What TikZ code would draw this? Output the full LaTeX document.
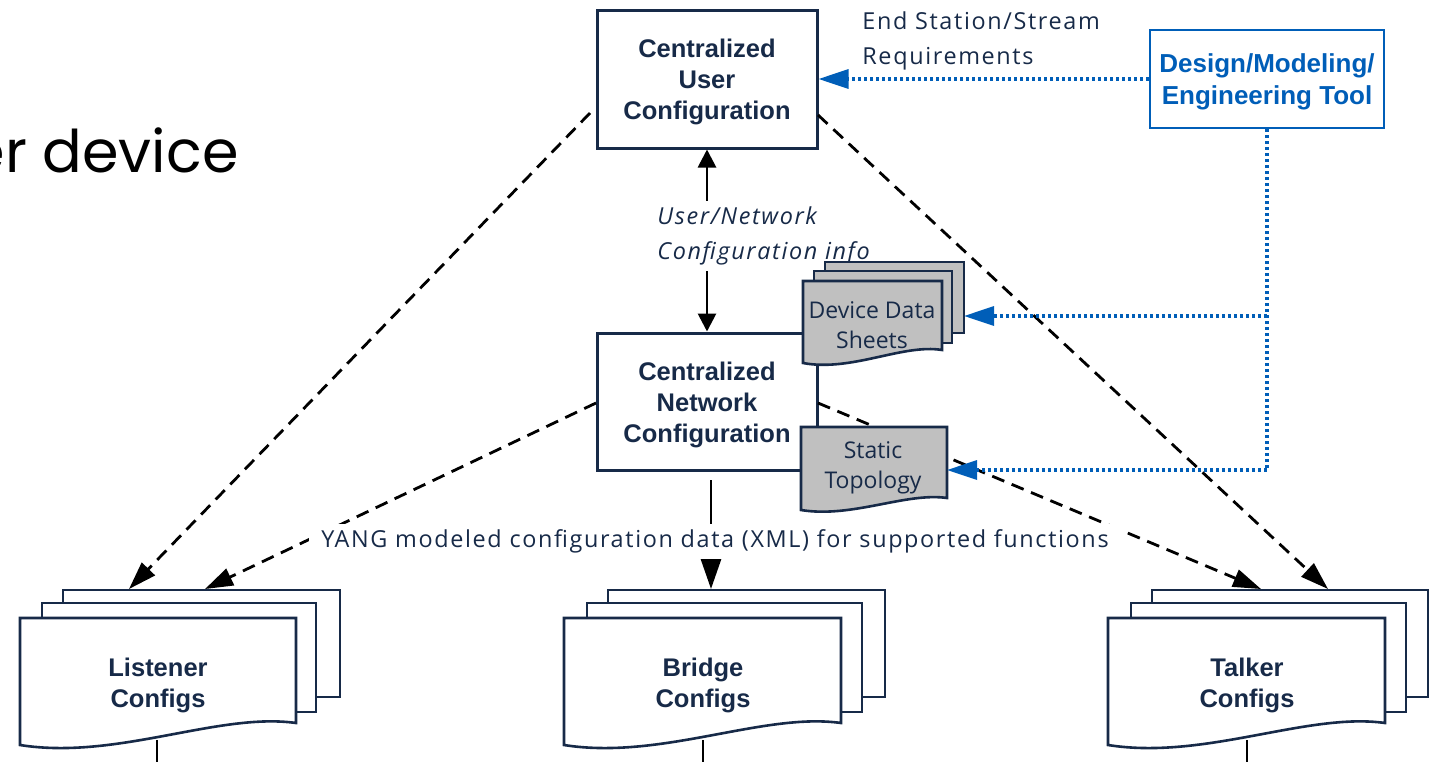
\documentclass[tikz,border=0pt]{standalone}
\usepackage{fontspec}
\usetikzlibrary{arrows.meta}
\newfontfamily\bfam{Liberation Sans}
\newfontfamily\rfam{Open Sans}
\newfontfamily\wfam[LetterSpace=7]{Open Sans}
\newfontfamily\pfam{Poppins}
\definecolor{navy}{RGB}{23,42,72}
\definecolor{toolblue}{RGB}{0,94,184}
\definecolor{docgray}{RGB}{192,192,192}
\newcommand\wavedoc[6]{\draw[#1] (#2,#3) -- ++(#4,0) -- ++(0,#5) .. controls +(-0.28*#4,-0.5*#6) and +(0.35*#4,0.7*#6) .. ++(-#4,#6) -- cycle;}
\tikzset{
  box/.style={draw=navy, line width=1.5pt, fill=white, inner sep=0pt},
  toolbox/.style={draw=toolblue, line width=1.3pt, fill=white, inner sep=0pt},
  boldtxt/.style={font=\bfam\bfseries\fontsize{12.75}{15.5}\selectfont, text=navy, align=center, inner sep=0pt},
  tooltxt/.style={font=\bfam\bfseries\fontsize{13}{16}\selectfont, text=toolblue, align=center, inner sep=0pt},
  regtxt/.style={font=\rfam\fontsize{11.5}{15}\selectfont, text=navy, align=center, inner sep=0pt},
  widetxt/.style={font=\wfam\fontsize{11.7}{17.5}\selectfont, text=navy, inner sep=0pt},
  docfront/.style={draw=navy, line width=1.3pt, fill=white},
  docgrey/.style={draw=navy, line width=1.3pt, fill=docgray},
  dashline/.style={draw=black, line width=1.4pt, dash pattern=on 6.5pt off 4pt, -{Triangle[length=14pt,width=9pt]}},
  solidline/.style={draw=black, line width=1.4pt},
  bdot/.style={draw=toolblue, line width=1.7pt, dash pattern=on 1.5pt off 1.5pt},
  btip/.style={-{Triangle[length=15pt,width=9.5pt]}},
}
\begin{document}
\begin{tikzpicture}[x=0.5pt,y=-0.5pt]
\useasboundingbox (0,0) rectangle (1435,761);
\clip (0,0) rectangle (1435,761);

% title fragment
\node[anchor=base east, inner sep=0pt, font=\pfam\fontsize{29.4}{30}\selectfont] (title) at (239,172) {er device};

% lines leaving the config documents (bottom)
\coordinate (lisOut) at (157,770);
\coordinate (briOut) at (703,770);
\coordinate (talOut) at (1247,770);
\coordinate (lisIn) at (157,740);
\coordinate (briIn) at (703,740);
\coordinate (talIn) at (1247,740);
\draw[solidline] (lisIn) -- (lisOut);
\draw[solidline] (briIn) -- (briOut);
\draw[solidline] (talIn) -- (talOut);

% Listener stack
\draw[docfront] (63,590) rectangle ++(277,107);
\draw[docfront] (42,603) rectangle ++(274,109);
\wavedoc{docfront}{20}{618}{276}{105}{22}
\node[boldtxt] (lis) at (158,685) {Listener\\Configs};
% Bridge stack
\draw[docfront] (608,590) rectangle ++(277,107);
\draw[docfront] (587,603) rectangle ++(275,109);
\wavedoc{docfront}{564}{618}{277}{105}{22}
\node[boldtxt] (bri) at (703,685) {Bridge\\Configs};
% Talker stack
\draw[docfront] (1152,590) rectangle ++(276,107);
\draw[docfront] (1131,603) rectangle ++(275,109);
\wavedoc{docfront}{1108}{618}{277}{105}{22}
\node[boldtxt] (tal) at (1247,685) {Talker\\Configs};

% arrow targets
\coordinate (lisA) at (129,589);
\coordinate (lisB) at (205,589);
\coordinate (briA) at (711,589);
\coordinate (talA) at (1261,589);
\coordinate (talB) at (1328,589);
\coordinate (cucL) at (590,113);
\coordinate (cucR) at (818,115);
\coordinate (cncL) at (596,403);
\coordinate (cncR) at (818,403);
\coordinate (cncB) at (711,480);

% main boxes
\node[box, minimum width=110pt, minimum height=69pt] (cuc) at (707,79) {};
\node[boldtxt] (cuctxt) at (707,82) {Centralized\\User\\Configuration};
\node[box, minimum width=110pt, minimum height=68.5pt] (cnc) at (707,401.5) {};
\node[boldtxt] (cnctxt) at (707,405) {Centralized\\Network\\Configuration};
\node[toolbox, minimum width=117pt, minimum height=49pt] (tool) at (1267,79) {};
\node[tooltxt] (tooltext) at (1267,82) {Design/Modeling/\\Engineering Tool};

% dashed connectors
\draw[dashline] (cucL) -- (lisA);
\draw[dashline] (cncL) -- (lisB);
\draw[dashline] (cucR) -- (talB);
\draw[dashline] (cncR) -- (talA);
\draw[solidline, -{Triangle[length=15pt,width=10pt]}] (cncB) -- (briA);
\draw[solidline, {Triangle[length=9pt,width=9pt]}-{Triangle[length=9pt,width=9pt]}] (cuc.south) -- (cnc.north);

% labels
\node[widetxt, font=\wfam\itshape\fontsize{11.7}{17.5}\selectfont, fill=white, align=left, anchor=west, inner xsep=1pt, inner ysep=3pt] (uninfo) at (655,236) {User/Network\\Configuration info};
\node[widetxt, fill=white, inner xsep=6pt, minimum height=17.5pt] (yang) at (715,541) {YANG modeled configuration data (XML) for supported functions};
\node[widetxt, align=left, anchor=west] (esreq) at (862,41) {End Station/Stream\\Requirements};

% device data sheets
\draw[docgrey] (825,262) rectangle ++(139,71);
\draw[docgrey] (814,271) rectangle ++(138,72);
\wavedoc{docgrey}{803}{281}{139}{69}{13}
\node[regtxt] (dds) at (872,325) {Device Data\\Sheets};
% static topology
\wavedoc{docgrey}{801}{427}{146}{71}{12}
\node[regtxt] (stat) at (873,468) {Static\\Topology};

% blue dotted connectors
\coordinate (j1) at (1267,316);
\coordinate (j2) at (1267,470);
\coordinate (ddsR) at (964,316);
\coordinate (statR) at (947,470);
\draw[bdot] (tool.south) -- (j2);
\draw[bdot, btip] (j2) -- (statR);
\draw[bdot, btip] (j1) -- (ddsR);
\draw[bdot, btip] (tool.west) -- (cuc.east);
\end{tikzpicture}
\end{document}
